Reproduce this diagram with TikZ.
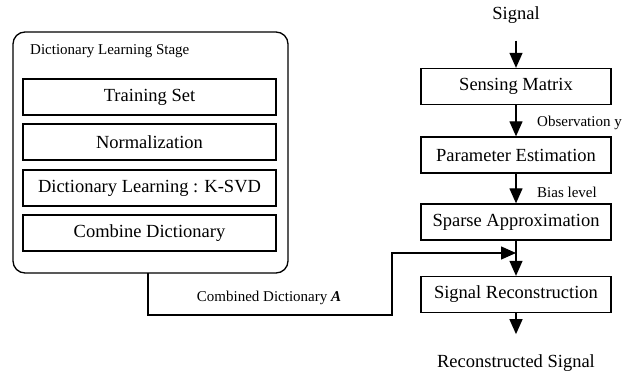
\documentclass[tikz,border=0pt]{standalone}
\usepackage{fontspec}
\setmainfont{Liberation Serif}
\usetikzlibrary{arrows.meta,shapes}
\tikzset{>={Triangle[width=13pt,length=15pt]}}
\tikzset{
  stagebox/.style={draw, line width=1.3pt, minimum width=253pt, minimum height=36pt, inner sep=0pt, font=\fontsize{18.5}{20}\selectfont},
  flowbox/.style={draw, line width=1.3pt, minimum width=190pt, minimum height=36pt, inner sep=0pt, font=\fontsize{18.5}{20}\selectfont},
  smalltext/.style={font=\fontsize{15}{16}\selectfont, inner sep=0pt},
  bigtext/.style={font=\fontsize{18.5}{20}\selectfont, inner sep=0pt}
}

\begin{document}
\begin{tikzpicture}[x=1pt,y=-1pt]
        \useasboundingbox (0,0) rectangle (622,374);
        % dictionary learning stage
        \draw[line width=1.3pt, rounded corners=12pt] (13,32) rectangle (288,273);
        \node[smalltext, anchor=west] (stage) at (30,51) {Dictionary Learning Stage};
        \node[stagebox] (training) at (149.5,97) {Training Set};
        \node[stagebox] (norm) at (149.5,142) {Normalization};
        \node[stagebox] (dictlearn) at (149.5,188) {Dictionary Learning : K-SVD};
        \node[stagebox] (combine) at (149.5,233) {Combine Dictionary};
        % reconstruction chain
        \node[bigtext] (signal) at (516,15) {Signal};
        \node[flowbox] (sensing) at (516,86.5) {Sensing Matrix};
        \node[flowbox] (param) at (516,155) {Parameter Estimation};
        \node[flowbox] (sparse) at (516,222) {Sparse Approximation};
        \node[flowbox] (recon) at (516,294.5) {Signal Reconstruction};
        \node[bigtext] (output) at (516,363) {Reconstructed Signal};
        \node[smalltext, anchor=west] (obs) at (537,123) {Observation y};
        \node[smalltext, anchor=west] (bias) at (537,192) {Bias level};
        \node[smalltext] (dictA) at (269,298) {Combined Dictionary \textbf{\textit{A}}};
        \coordinate (stageout) at (148,273);
        \coordinate (join) at (516,253);
        \draw[line width=1.3pt, ->] (signal.south) ++(0,17) -- (sensing.north);
        \draw[line width=1.3pt, ->] (sensing) -- (param);
        \draw[line width=1.3pt, ->] (param) -- (sparse);
        \draw[line width=1.3pt, ->] (sparse) -- (recon);
        \draw[line width=1.3pt, ->] (recon.south) -- ++(0,21);
        \draw[line width=1.3pt, ->] (stageout) |- (392,315) |- (join);
\end{tikzpicture}
\end{document}
